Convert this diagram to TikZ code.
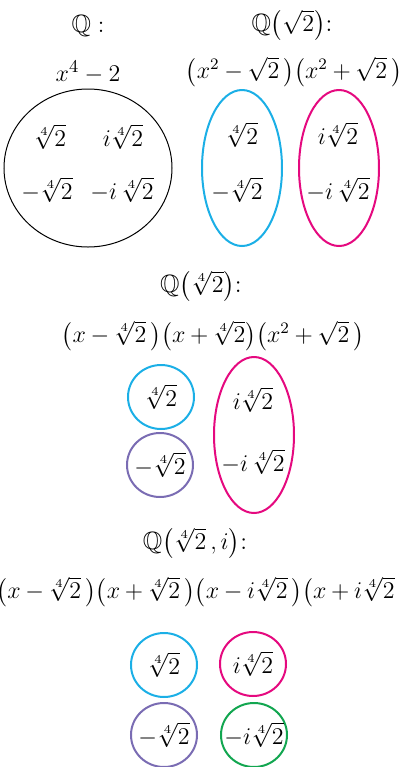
\documentclass[tikz,border=0pt]{standalone}
\usepackage{amsmath}
\usepackage{amssymb}
\usepackage{xcolor}
\usepackage{tikz}
\usetikzlibrary{positioning, shapes.geometric}
\definecolor{Root_Cyan}{HTML}{1BAFE6}
\definecolor{Root_Magenta}{HTML}{E5097F}
\definecolor{Root_Purple}{HTML}{7A6CB3}
\definecolor{Root_Green}{HTML}{12A650}
\newcommand{\tightops}{\medmuskip=3.5mu\relax}

\begin{document}
\begin{tikzpicture}[
  x=0.5pt, y=-0.5pt,
  every node/.style={font=\fontsize{12.5}{15}\selectfont, inner sep=0pt},
  poly/.style={font=\fontsize{11.8}{15}\selectfont},
  grp/.style={draw, ellipse, line width=1pt, inner sep=0pt},
  pair/.style={grp, minimum width=40pt, minimum height=78pt},
  single/.style={grp, minimum width=33pt, minimum height=32pt}
]
  \useasboundingbox (0,0) rectangle (399,767);

  % Q : one orbit of four roots
  \node (qhead) at (88,26) {$\mathbb{Q}:$};
  \node (qpoly) at (88,72) {$x^4-2$};
  \node[grp, draw=black, line width=0.5pt, minimum width=84pt,
    minimum height=79pt] (qset) at (88,168) {};
  \node (qa) at (50,137) {$\sqrt[4]{2}$};
  \node (qb) at (123,137) {$i\sqrt[4]{2}$};
  \node (qc) at (47,190) {$-\sqrt[4]{2}$};
  \node (qd) at (122,190) {$-i\,\sqrt[4]{2}$};

  % Q(sqrt 2) : two orbits
  \node (shead) at (292,25) {$\mathbb{Q}\bigl(\sqrt{2}\bigr)$:};
  \node[poly] (spoly) at (294,72) {$\tightops\bigl(x^2-\sqrt{2}\,\bigr)\bigl(x^2+\sqrt{2}\,\bigr)$};
  \node[pair, draw=Root_Cyan] (sleft) at (242,168) {};
  \node[pair, draw=Root_Magenta] (sright) at (339,168) {};
  \node (sa) at (242,135) {$\sqrt[4]{2}$};
  \node (sc) at (237,190) {$-\sqrt[4]{2}$};
  \node (sb) at (338,135) {$i\sqrt[4]{2}$};
  \node (sd) at (338,190) {$-i\,\sqrt[4]{2}$};

  % Q(4th root of 2) : three orbits
  \node (fhead) at (201,286) {$\mathbb{Q}\bigl(\sqrt[4]{2}\bigr)$:};
  \node[poly] (fpoly) at (213,336) {$\tightops\bigl(x-\sqrt[4]{2}\,\bigr)\bigl(x+\sqrt[4]{2}\bigr)\bigl(x^2+\sqrt{2}\,\bigr)$};
  \node[single, draw=Root_Cyan] (fa) at (161,397) {};
  \node[single, draw=Root_Purple] (fc) at (160,465) {};
  \node[pair, draw=Root_Magenta] (fright) at (254,435) {};
  \node (fatext) at (fa) {$\sqrt[4]{2}$};
  \node (fctext) at (fc) {$-\sqrt[4]{2}$};
  \node (fb) at (253,400) {$i\sqrt[4]{2}$};
  \node (fd) at (253,462) {$-i\,\sqrt[4]{2}$};

  % Q(4th root of 2, i) : four orbits
  \node (ihead) at (195,543) {$\mathbb{Q}\bigl(\sqrt[4]{2}\,,i\bigr)$:};
  \node[poly] (ipoly) at (203,592) {$\tightops\bigl(x-\sqrt[4]{2}\,\bigr)\bigl(x+\sqrt[4]{2}\,\bigr)\bigl(x-i\sqrt[4]{2}\,\bigr)\bigl(x+i\sqrt[4]{2}\,\bigr)$};
  \node[single, draw=Root_Cyan] (ia) at (164,665) {};
  \node[single, draw=Root_Magenta] (ib) at (253,664) {};
  \node[single, draw=Root_Purple] (ic) at (164,735) {};
  \node[single, draw=Root_Green] (id) at (254,735) {};
  \node (iatext) at (ia) {$\sqrt[4]{2}$};
  \node (ibtext) at (ib) {$i\sqrt[4]{2}$};
  \node (ictext) at (ic) {$-\sqrt[4]{2}$};
  \node (idtext) at (id) {$-i\sqrt[4]{2}$};
\end{tikzpicture}
\end{document}
